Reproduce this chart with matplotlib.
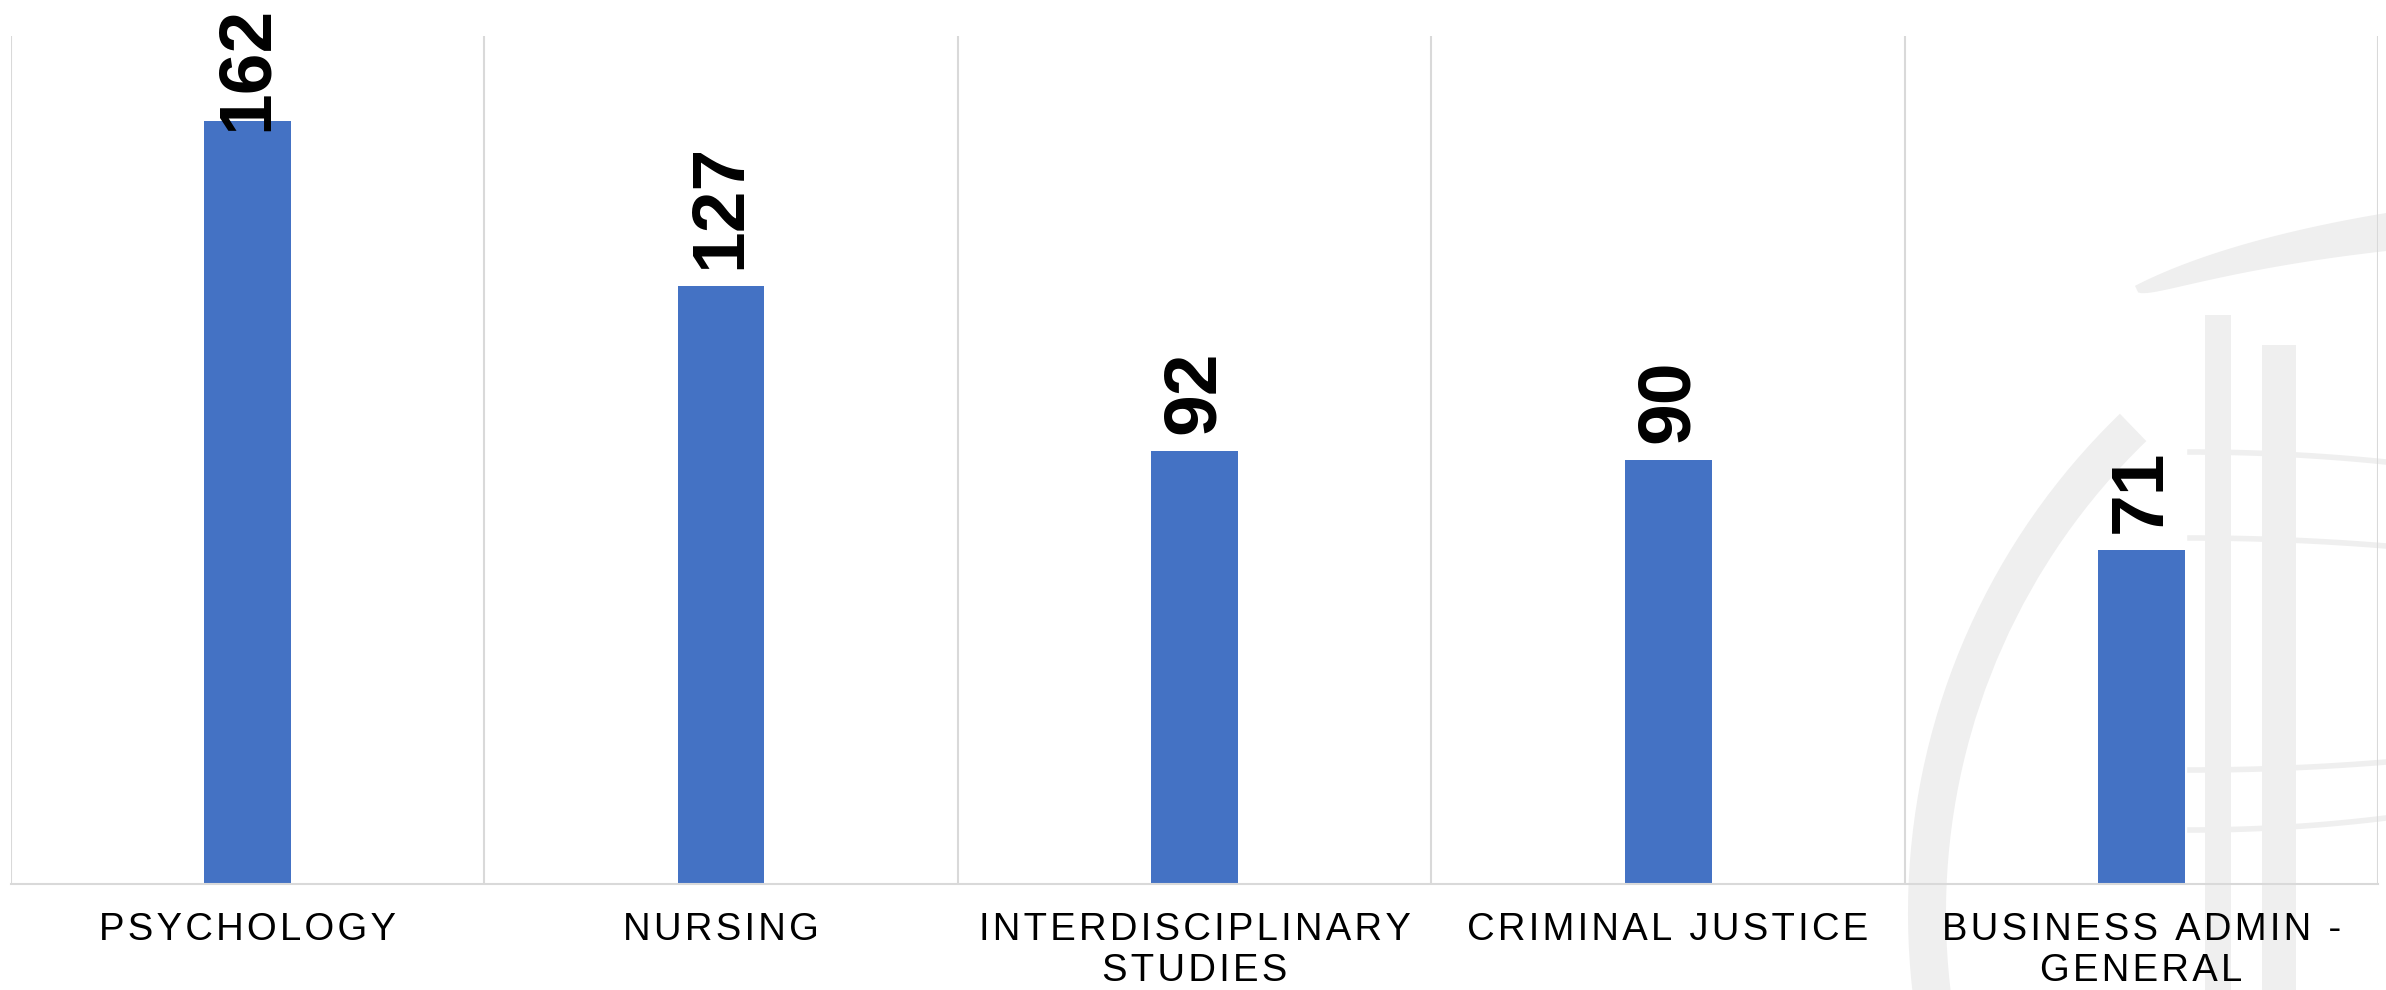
import numpy as np
import matplotlib
matplotlib.use('Agg')
import matplotlib.pyplot as plt
from matplotlib.patches import Wedge, Rectangle, Polygon

plt.rcParams['font.family'] = ['Liberation Sans', 'DejaVu Sans']

majors = ['PSYCHOLOGY', 'NURSING', 'INTERDISCIPLINARY\nSTUDIES',
          'CRIMINAL JUSTICE', 'BUSINESS ADMIN -\nGENERAL']
counts = [162, 127, 92, 90, 71]

bar_color = '#4472C4'
grid_color = '#D9D9D9'
mark_color = '#EFEFEF'

W, H = 2386, 990
fig = plt.figure(figsize=(W / 100, H / 100), dpi=100)

# faint seal watermark behind the chart (pixel coordinates, y down)
bg = fig.add_axes([0, 0, 1, 1], zorder=0)
bg.set_xlim(0, W)
bg.set_ylim(H, 0)
bg.axis('off')
bg.add_patch(Wedge((2602, 913), 694, 138, 226, width=38, color=mark_color, lw=0))
# top swoosh: thin at the left tip, thicker to the right
sx = np.linspace(2135, W, 80)
top = 375 - 189 * np.sqrt(1 - ((sx - 2739) / 685) ** 2)
thick = 38 * ((sx - 2135) / (W - 2135)) ** 0.35
bg.add_patch(Polygon(np.r_[np.c_[sx, top], np.c_[sx[::-1], (top + thick)[::-1]]],
                     closed=True, color=mark_color, lw=0))
bg.add_patch(Rectangle((2205, 315), 26, 700, color=mark_color, lw=0))
bg.add_patch(Rectangle((2262, 345), 34, 700, color=mark_color, lw=0))
lx = np.linspace(2190, W, 40)
for y0, bend in [(452, 10), (538, 8), (770, -8), (830, -12)]:
    bg.plot(lx, y0 + bend * ((lx - 2190) / (W - 2190)) ** 2, color=mark_color, lw=4)

ax = fig.add_axes([0.0045, 0.107, 0.9923, 0.8566], zorder=1)
ax.patch.set_alpha(0)

x = np.arange(len(majors))
ax.bar(x, counts, width=0.1835, color=bar_color, zorder=2)
ax.set_xlim(-0.5, len(majors) - 0.5)
ax.set_ylim(0, 180)

ax.vlines(np.arange(len(majors) + 1) - 0.5, 0, 180, color=grid_color, lw=1.5, zorder=1)

for s in ['top', 'right', 'left']:
    ax.spines[s].set_visible(False)
ax.spines['bottom'].set_color(grid_color)
ax.spines['bottom'].set_linewidth(1.5)


def spaced(s):
    # a little letter spacing, as in the original axis labels
    return '\n'.join('\u200a'.join(line) for line in s.split('\n'))


ax.set_yticks([])
ax.set_xticks(x)
ax.set_xticklabels([spaced(m) for m in majors], fontsize=27.5, color='black',
                   linespacing=1.2)
ax.tick_params(axis='x', length=0, pad=20)

labels = []
for xi, v in zip(x, counts):
    t = ax.annotate(str(v), (xi, v), xytext=(0, 12), textcoords='offset points',
                    ha='center', va='bottom', rotation=90, fontsize=54,
                    fontweight='bold', color='black', annotation_clip=False)
    labels.append(t)

# keep the labels inside the picture, like the original does
fig.canvas.draw()
for t in labels:
    bb = t.get_window_extent()
    if bb.y1 > H - 6:
        over = (bb.y1 - (H - 6)) * 72 / fig.dpi
        t.xyann = (0, 12 - over)

fig.savefig('out.png', dpi=100)
